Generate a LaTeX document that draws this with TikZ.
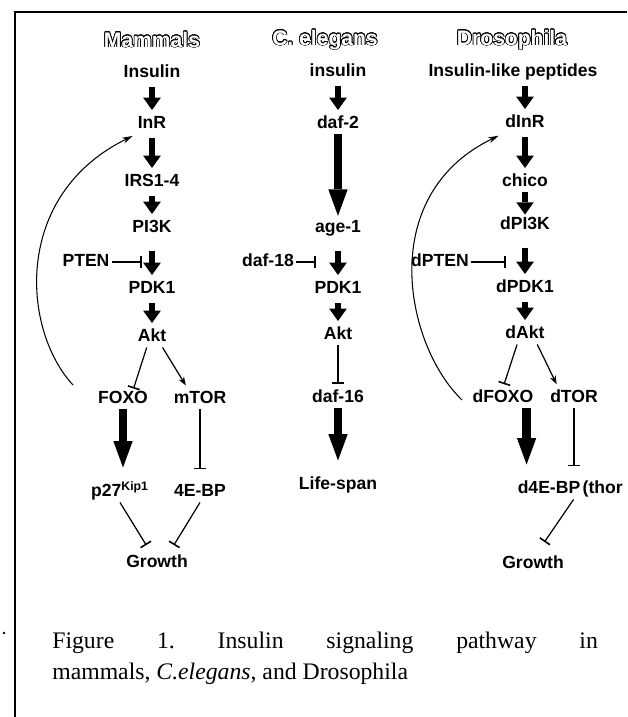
\documentclass[tikz,border=0pt]{standalone}
\usepackage{fontspec}
\setmainfont{Liberation Serif}
\setsansfont{Liberation Sans}
\usepackage{contour}
\contourlength{0.4pt}
\usetikzlibrary{arrows.meta, positioning}
\tikzset{
  gene/.style={font=\sffamily\bfseries\fontsize{10}{12}\selectfont, inner sep=1pt, text height=7.5pt, text depth=2pt},
  species/.style={font=\sffamily\bfseries\fontsize{12}{14}\selectfont, inner sep=1pt, text=white},
  up/.style={line width=3.2pt, -{Triangle[length=7pt, width=10pt, line width=0pt]}, shorten <=2pt, shorten >=2pt},
  fat/.style={line width=5pt, -{Triangle[length=15pt, width=11pt, line width=0pt]}},
  blocks/.style={line width=0.7pt, -{Bar[width=7pt, line width=0.9pt]}},
  acts/.style={line width=0.7pt, -{Stealth[length=5pt, width=3.5pt]}},
  feedback/.style={line width=0.6pt, -{Stealth[length=6pt, width=3.5pt]}},
  caption/.style={anchor=base west, inner sep=0pt, font=\fontsize{13.5}{16}\selectfont\frenchspacing}
}
\begin{document}
\begin{tikzpicture}[x=0.02cm, y=-0.02cm]
\useasboundingbox (0,0) rectangle (627,717);
\draw[line width=1.3pt] (627,12) -- (15,12) -- (15,717);
\fill (4,633) circle (0.8pt);

\node[species] (hM) at (152,40) {\contour{black}{Mammals}};
\node[species] (hC) at (325,40) {\contour{black}{C. elegans}};
\node[species] (hD) at (512,40) {\contour{black}{Drosophila}};

\node[gene] (mIns) at (152,73) {Insulin};
\node[gene] (mInR) at (152,124) {InR};
\node[gene] (mIRS) at (152,182) {IRS1-4};
\node[gene] (mPI3K) at (152,228) {PI3K};
\node[gene] (mPDK1) at (152,289) {PDK1};
\node[gene] (mAkt) at (152,337) {Akt};
\node[gene] (mFOXO) at (123,399) {FOXO};
\node[gene] (mTOR) at (200,399) {mTOR};
\node[gene] (mp27) at (120,492) {p27\textsuperscript{Kip1}};
\node[gene] (m4EBP) at (200,492) {4E-BP};
\node[gene] (mGrowth) at (157,563) {Growth};
\node[gene] (mPTEN) at (86,262) {PTEN};
\coordinate (mPTENbar) at (142,262);
\coordinate (mLoop) at (73,385);

\draw[up] (mIns) -- (mInR);
\draw[up] (mInR) -- (mIRS);
\draw[up] (mIRS) -- (mPI3K);
\draw[up, shorten <=7pt] (mPI3K) -- (mPDK1);
\draw[up] (mPDK1) -- (mAkt);
\draw[blocks] (mPTEN) -- (mPTENbar);
\draw[blocks] ([xshift=-3pt]mAkt.south) -- ([xshift=6pt]mFOXO.north);
\draw[acts, shorten >=2pt] ([xshift=6pt]mAkt.south) -- ([xshift=-7pt]mTOR.north);
\draw[fat, shorten >=8pt] (mFOXO.south) -- (mFOXO.south |- mp27.north);
\draw[blocks, shorten >=7pt] (mTOR.south) -- (m4EBP.north);
\draw[blocks, shorten >=5pt] (mp27.south) -- ([xshift=-3.5pt]mGrowth.north);
\draw[blocks, shorten >=5pt] (m4EBP.south) -- ([xshift=7pt]mGrowth.north);
\draw[feedback, shorten >=2pt] (mLoop) .. controls (22,330) and (12,195) .. (mInR.south west);

\node[gene] (cIns) at (338,72) {insulin};
\node[gene] (cDaf2) at (338,124) {daf-2};
\node[gene] (cAge1) at (338,228) {age-1};
\node[gene] (cPDK1) at (338,289) {PDK1};
\node[gene] (cAkt) at (338,335) {Akt};
\node[gene] (cDaf16) at (338,398) {daf-16};
\node[gene] (cLife) at (338,485) {Life-span};
\node[gene] (cDaf18) at (268,262) {daf-18};
\coordinate (cBar) at (316,262);

\draw[up] (cIns) -- (cDaf2);
\draw[fat, shorten >=1pt] (cDaf2) -- (cAge1);
\draw[up, shorten <=7pt] (cAge1) -- (cPDK1);
\draw[up] (cPDK1) -- (cAkt);
\draw[blocks, shorten >=2pt] (cAkt) -- (cDaf16);
\draw[fat, shorten >=8pt] (cDaf16) -- (cLife);
\draw[blocks] (cDaf18) -- (cBar);

\node[gene] (dIlp) at (513,72) {Insulin-like peptides};
\node[gene] (dInR) at (525,123) {dInR};
\node[gene] (dChico) at (525,182) {chico};
\node[gene] (dPI3K) at (525,225) {dPI3K};
\node[gene] (dPDK1) at (525,288) {dPDK1};
\node[gene] (dAkt) at (525,334) {dAkt};
\node[gene] (dFOXO) at (503,398) {dFOXO};
\node[gene] (dTOR) at (574,398) {dTOR};
\node[gene] (d4E) at (549,489) {d4E-BP};
\node[gene, right=-1pt of d4E] (dThor) {(thor};
\node[gene] (dGrowth) at (533,564) {Growth};
\node[gene] (dPTEN) at (440,262) {dPTEN};
\coordinate (dBar) at (506,262);
\coordinate (dLoop) at (462,400);

\draw[up] (dIlp.south -| dInR) -- (dInR);
\draw[up] (dInR) -- (dChico);
\draw[up, shorten <=0pt, shorten >=0pt] (dChico) -- (dPI3K);
\draw[up, shorten <=7pt] (dPI3K) -- (dPDK1);
\draw[up] (dPDK1) -- (dAkt);
\draw[blocks] (dPTEN) -- (dBar);
\draw[blocks, shorten >=2pt] ([xshift=-4.5pt]dAkt.south) -- (dFOXO.north);
\draw[acts, shorten >=2pt] ([xshift=7pt]dAkt.south) -- ([xshift=-9pt]dTOR.north);
\draw[fat, shorten >=8pt] ([xshift=-5pt]dFOXO.south east) -- ([xshift=-5pt]dFOXO.south east |- d4E.north);
\draw[blocks, shorten >=7pt] (dTOR.south) -- (dTOR.south |- d4E.north);
\draw[blocks, shorten >=8pt] ([xshift=-5pt]d4E.south east) -- ([xshift=2pt]dGrowth.north);
\draw[feedback, shorten >=3pt] (dLoop) .. controls (405,345) and (375,195) .. (dInR.south west);

\node[caption] (cap1) at (52,648) {\makebox[310.5pt][s]{Figure 1. Insulin signaling pathway in}};
\node[caption] (cap2) at (52,679) {mammals, \textit{C.elegans}, and Drosophila};
\end{tikzpicture}
\end{document}
